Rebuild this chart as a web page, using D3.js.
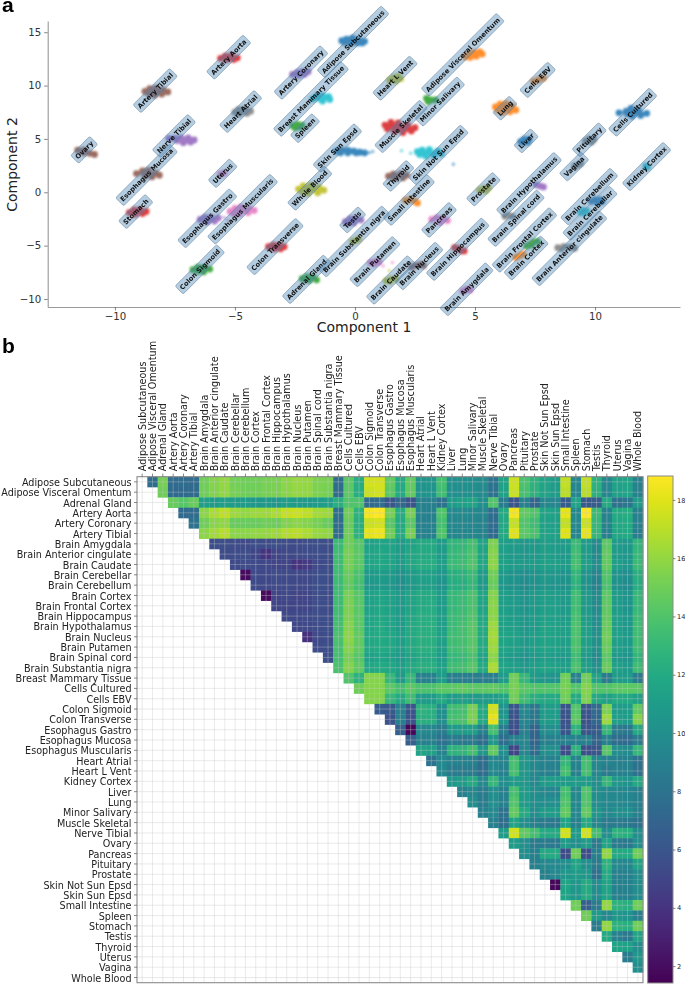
<!DOCTYPE html>
<html>
<head>
<meta charset="utf-8">
<script src="https://cdn.jsdelivr.net/npm/d3@7"></script>
<style>
  html, body { margin: 0; padding: 0; background: #fff; }
  svg { display: block; }
  text { font-family: "DejaVu Sans", sans-serif; }
</style>
</head>
<body>
<div id="chart"></div>
<script>
const tissues = [
  "Adipose Subcutaneous", "Adipose Visceral Omentum", "Adrenal Gland", "Artery Aorta", "Artery Coronary",
  "Artery Tibial", "Brain Amygdala", "Brain Anterior cingulate", "Brain Caudate", "Brain Cerebellar",
  "Brain Cerebellum", "Brain Cortex", "Brain Frontal Cortex", "Brain Hippocampus", "Brain Hypothalamus",
  "Brain Nucleus", "Brain Putamen", "Brain Spinal cord", "Brain Substantia nigra", "Breast Mammary Tissue",
  "Cells Cultured", "Cells EBV", "Colon Sigmoid", "Colon Transverse", "Esophagus Gastro",
  "Esophagus Mucosa", "Esophagus Muscularis", "Heart Atrial", "Heart L Vent", "Kidney Cortex",
  "Liver", "Lung", "Minor Salivary", "Muscle Skeletal", "Nerve Tibial",
  "Ovary", "Pancreas", "Pituitary", "Prostate", "Skin Not Sun Epsd",
  "Skin Sun Epsd", "Small Intestine", "Spleen", "Stomach", "Testis",
  "Thyroid", "Uterus", "Vagina", "Whole Blood"
];

// where each tissue name sits in the embedding, same order as tissues
const labelSpots = [
  [-0.08, 14.09], [4.49, 12.88], [-2.01, -8.16], [-5.26, 12.66], [-2.25, 11.22],
  [-8.32, 9.53], [4.65, -9.09], [8.93, -5.25], [1.49, -8.22], [9.79, -1.97],
  [9.76, -0.41], [7.13, -6.16], [7.06, -4.47], [4.28, -5.34], [7.25, 0.69],
  [2.67, -6.91], [0.83, -6.5], [6.71, -2.44], [-0.04, -4.61], [-1.83, 8.74],
  [11.57, 7.5], [7.61, 10.53], [-6.46, -7.22], [-3.33, -5.09], [-6.15, -2.44],
  [-8.68, 1.63], [-4.68, -1.59], [-4.76, 7.56], [1.67, 10.69], [12.15, 2.41],
  [7.13, 4.81], [6.25, 7.88], [3.54, 8.5], [1.92, 6.16], [-7.54, 5.28],
  [-11.28, 3.97], [3.5, -2.59], [9.76, 4.91], [5.35, 0.28], [3.47, 3.5],
  [-0.73, 4.15], [2.25, -0.72], [-2.08, 6], [-9.13, -1.81], [-0.1, -2.59],
  [1.81, 1.53], [-5.51, 1.78], [9.13, 2.41], [-1.88, 0.38]
];

const clusterPoints = [
  [[-0.55, 14.2], [-0.35, 14.35], [-0.1, 14.45], [0.15, 14.3], [0.4, 14.15], [0.1, 14], [-0.2, 13.95], [-0.1, 14.2], [-0.45, 14.05], [0.3, 14]],
  [[4.6, 12.7], [4.75, 12.95], [4.95, 13.1], [5.2, 13.15], [5.3, 12.95], [5.05, 12.75], [4.8, 12.65], [4.95, 12.9]],
  [[-2.2, -8.1], [-2, -7.9], [-1.75, -7.95], [-1.6, -8.2], [-1.9, -8.25], [-2.05, -8.05]],
  [[-5.6, 12.55], [-5.4, 12.75], [-5.15, 12.8], [-4.9, 12.6], [-5.05, 12.45], [-5.35, 12.45], [-5.25, 12.62]],
  [[-2.6, 11.05], [-2.4, 11.2], [-2.2, 11.3], [-1.95, 11.3], [-2.1, 11.05], [-2.35, 10.95]],
  [[-8.75, 9.45], [-8.55, 9.7], [-8.3, 9.75], [-8, 9.6], [-7.8, 9.4], [-8.05, 9.2], [-8.35, 9.1], [-8.6, 9.25], [-8.3, 9.45]],
  [[4.5, -9.25], [4.65, -9.1], [4.8, -9.15]],
  [[8.45, -5.2], [8.7, -5.1], [8.95, -5.15], [9.15, -5.25], [8.6, -5.3]],
  [[1.3, -8.3], [1.5, -8.15], [1.7, -8.1], [1.45, -8.35]],
  [[9.4, -1.9], [9.5, -1.7], [9.65, -1.75], [9.55, -1.95]],
  [[9.85, -0.85], [10, -0.7], [10.2, -0.7], [10.3, -0.85], [10.1, -0.95]],
  [[6.7, -6.1], [6.85, -5.95], [7, -5.8]],
  [[7.15, -5.05], [7.3, -4.85], [7.45, -4.65], [7.6, -4.6], [7.35, -4.95]],
  [[4.15, -5.2], [4.3, -5.25], [4.45, -5.5], [4.55, -5.5]],
  [[7.55, 0.7], [7.7, 0.6], [7.85, 0.5]],
  [[2.35, -7], [2.55, -6.85], [2.75, -6.75], [2.85, -6.85]],
  [[0.65, -6.6], [0.85, -6.5], [1, -6.55], [0.8, -6.7]],
  [[6.25, -2.25], [6.4, -2.15], [6.55, -2.25]],
  [[-0.1, -4.6], [0.05, -4.5], [0.15, -4.4]],
  [[-1.75, 8.75], [-1.6, 9], [-1.35, 9.05], [-1.1, 8.95], [-1.05, 8.7], [-1.35, 8.55], [-1.5, 8.8]],
  [[11, 7.45], [11.3, 7.6], [11.5, 7.85], [11.8, 7.7], [12.15, 7.4], [11.9, 7.2], [11.55, 7.15], [11.35, 7.35], [11.6, 7.5], [11.85, 7.45]],
  [[7.45, 10.4], [7.65, 10.55], [7.85, 10.7]],
  [[-6.75, -7.25], [-6.55, -7.05], [-6.3, -7.05], [-6.05, -7.2], [-6.3, -7.45], [-6.55, -7.4]],
  [[-3.6, -5.1], [-3.4, -4.95], [-3.15, -4.95], [-2.95, -5.1], [-3.1, -5.3], [-3.35, -5.3]],
  [[-6.45, -2.55], [-6.25, -2.35], [-6, -2.35], [-5.7, -2.4], [-5.85, -2.7], [-6.15, -2.75]],
  [[-9.1, 1.75], [-8.85, 2], [-8.6, 2.05], [-8.3, 1.8], [-8.15, 1.6], [-8.45, 1.45], [-8.75, 1.5], [-8.6, 1.75]],
  [[-5.2, -1.8], [-5, -1.5], [-4.75, -1.4], [-4.4, -1.55], [-4.2, -1.7], [-4.45, -1.9], [-4.8, -2], [-5.05, -2], [-4.7, -1.7]],
  [[-5, 7.5], [-4.85, 7.75], [-4.6, 7.8], [-4.35, 7.6], [-4.5, 7.4], [-4.8, 7.35]],
  [[1.45, 10.5], [1.6, 10.75], [1.8, 10.85], [1.9, 10.65], [1.7, 10.45]],
  [[12.12, 2.45], [12.18, 2.35]],
  [[6.9, 4.75], [7.05, 4.95], [7.25, 4.95], [7.2, 4.7], [7, 4.65]],
  [[5.85, 8], [6.05, 8.25], [6.3, 8.3], [6.55, 8.05], [6.7, 7.7], [6.45, 7.55], [6.15, 7.5], [5.95, 7.7], [6.3, 7.9]],
  [[2.98, 8.8], [3.15, 8.65], [3.35, 8.65], [3.05, 8.5]],
  [[1.25, 6.3], [1.5, 6.55], [1.8, 6.5], [2.2, 6.3], [2.5, 6.05], [2.35, 5.75], [2, 5.6], [1.65, 5.7], [1.35, 5.95], [1.9, 6.1]],
  [[-7.75, 5.05], [-7.5, 5.05], [-7.25, 5.1], [-6.95, 5.1], [-6.7, 4.9], [-6.85, 4.7], [-7.15, 4.65], [-7.4, 4.85], [-7.05, 4.9]],
  [[-11.55, 3.95], [-11.3, 3.95], [-11.05, 3.65], [-10.85, 3.55], [-11.3, 3.7]],
  [[3.2, -2.55], [3.4, -2.4], [3.65, -2.45], [3.85, -2.65], [3.55, -2.8]],
  [[9.6, 4.8], [9.75, 5], [9.95, 4.95], [9.85, 4.7]],
  [[5.2, 0.2], [5.35, 0.35], [5.55, 0.4], [5.45, 0.15]],
  [[2.6, 3.8], [2.8, 3.95], [3.1, 4], [3.45, 3.85], [3.6, 3.6], [3.3, 3.45], [2.95, 3.4], [2.7, 3.55], [3.1, 3.7]],
  [[-0.75, 3.85], [-0.55, 3.95], [-0.3, 3.95], [-0.05, 3.85], [0.2, 3.75], [0.4, 3.7], [-0.3, 3.7], [-0.6, 3.7], [0.05, 3.7]],
  [[2.1, -0.75], [2.3, -0.7], [2.5, -0.85], [2.6, -1]],
  [[-2.6, 6.25], [-2.4, 6.35], [-2.2, 6.3], [-2.3, 6.1], [-2.5, 6.05]],
  [[-9.4, -1.9], [-9.2, -1.65], [-8.95, -1.65], [-8.7, -1.8], [-8.85, -2], [-9.15, -2.05]],
  [[-0.4, -2.75], [-0.2, -2.5], [0.05, -2.45], [0.25, -2.6], [-0.05, -2.85], [-0.3, -2.9]],
  [[1.4, 1.5], [1.6, 1.7], [1.9, 1.75], [2.15, 1.6], [2, 1.35], [1.65, 1.3]],
  [[-5.6, 1.7], [-5.45, 1.8]],
  [[9.15, 2.45], [9.3, 2.55], [9.4, 2.7]],
  [[-2.35, 0.3], [-2.15, 0.6], [-1.85, 0.65], [-1.5, 0.45], [-1.3, 0.2], [-1.55, -0.05], [-1.95, -0.1], [-2.2, 0.05], [-1.85, 0.3]]
];

// lone samples away from the blobs: tissue, x, y
const strayPoints = [
  ["Esophagus Gastro", -5.45, -2.35], ["Esophagus Gastro", -5.3, -2.6],
  ["Brain Caudate", 1.43, -7.34],
  ["Brain Putamen", 1.18, -6.91], ["Brain Putamen", 1.56, -6.59],
  ["Skin Not Sun Epsd", 1.94, 3.9], ["Skin Not Sun Epsd", 2.32, 3.66],
  ["Skin Sun Epsd", 0.6, 3.72], ["Skin Sun Epsd", 0.74, 3.81], ["Skin Sun Epsd", 4.1, 2.63]
];

// upper triangle of the distance matrix, row i holds columns i+1 to the end
const heatRows = [
  [7.5, 15.2, 7.4, 7.5, 7.4, 15, 15.6, 16, 15.1, 15, 15, 15.2, 15.3, 15.8, 16.1, 16, 15.4, 15.3, 7.6, 14.4, 12.2, 17.6, 17.7, 14.6, 12, 14.6, 10.4, 10.5, 13.6, 10, 10.1, 10, 9.8, 8, 11.4, 17.5, 13.8, 12.6, 11.5, 11, 17.2, 9.4, 17.2, 12.6, 9.4, 11.4, 11.5, 9],
  [15, 7.3, 7.3, 7.4, 15, 15.5, 15.9, 15.2, 15, 15, 15.2, 15.3, 15.7, 16, 15.9, 15.4, 15.2, 7.5, 14.4, 12.2, 17.4, 17.6, 14.4, 12, 14.6, 10.4, 10.4, 13.5, 10, 10, 10, 9.7, 8, 11.4, 17.4, 13.7, 12.6, 11.5, 11, 17, 9.4, 17, 12.5, 9.4, 11.4, 11.5, 9],
  [14.8, 14.2, 14.8, 11.2, 11, 11.2, 11, 11, 10.6, 10.8, 10.6, 11.2, 11, 10.8, 11, 11.2, 12.4, 14, 14, 7.4, 7.5, 6.1, 7.2, 5.9, 9, 9, 8, 11, 11.4, 11.6, 10, 14, 8.6, 6, 9, 7, 9.5, 9.4, 6.4, 11.5, 6.2, 6.4, 12, 8, 8.2, 11],
  [7.4, 7.5, 15.8, 16.6, 17.1, 16.3, 16, 16.2, 16.3, 16.6, 17.3, 17.4, 17.1, 16.4, 16.2, 7.8, 15, 12.6, 18.6, 18.8, 15.2, 12.2, 15.2, 9.2, 9, 14, 9.6, 9.7, 9.6, 9.4, 7.6, 12, 18.5, 14.6, 14, 11.6, 11.4, 18.2, 9.6, 18.7, 13.2, 9.2, 12, 12.2, 9],
  [8, 15, 15.7, 15.9, 14.8, 14.8, 14.8, 15, 14.9, 15.5, 15.8, 15.6, 15.2, 14.8, 7.6, 14.8, 12.4, 17.4, 17.6, 14.2, 12, 14.4, 9, 9, 13.6, 9.5, 9.5, 9.4, 9.2, 7.5, 11.8, 17.3, 14, 13.4, 11.4, 11.2, 17.2, 9.6, 17.4, 13, 9.2, 11.8, 12, 9],
  [15.8, 16.4, 16.9, 15.8, 15.8, 15.9, 16, 16.3, 16.8, 17, 16.6, 16.1, 15.9, 7.6, 15, 12.6, 18.2, 18.4, 15, 12.1, 15.2, 9.1, 9, 14, 9.5, 9.5, 9.5, 9.2, 7.4, 11.9, 18, 14.4, 13.8, 11.5, 11.3, 18, 9.4, 18.2, 13, 9, 11.8, 12, 8.8],
  [5.6, 5.5, 5.4, 5.3, 5.5, 5.4, 5.6, 5.4, 5.3, 5.4, 5.6, 5.5, 13.2, 15, 14.2, 11.4, 11.6, 11.5, 11, 11.6, 12, 12, 11, 12.8, 13, 13.6, 11.6, 15.4, 11.2, 11, 10.6, 10.8, 11.2, 11, 11, 13.2, 11, 9.8, 14.4, 11, 10.6, 12.8],
  [5.4, 5.4, 5.5, 5, 4, 5, 5.2, 5.3, 5.4, 5.5, 5.5, 13.4, 15.2, 14.4, 11.5, 11.8, 11.6, 11, 11.8, 12, 12, 11, 13, 13.2, 13.8, 11.6, 15.6, 11.2, 10.8, 10.6, 10.8, 11.2, 11, 10.8, 13.4, 11, 9.8, 14.6, 11, 10.6, 13],
  [5.3, 5.4, 5.3, 5.2, 5, 5, 4, 4.4, 5.3, 5.4, 13.5, 15.2, 14.4, 11.6, 11.8, 11.6, 11, 11.8, 12.2, 12.2, 11.2, 13.2, 13.4, 14, 11.8, 15.8, 11.4, 11, 10.8, 11, 11.4, 11.2, 11, 13.6, 11.2, 10, 14.6, 11.2, 10.6, 13.2],
  [1.9, 5.3, 5.2, 5.4, 5.3, 5.2, 5.2, 5.6, 5.6, 13.4, 14.8, 13.8, 10.8, 11, 10.8, 10.2, 11, 11.4, 11.4, 10.6, 12.4, 12.6, 13.2, 11, 15, 10.8, 10.4, 10, 10.4, 10.8, 10.6, 10.4, 12.8, 10.4, 9.4, 14, 10.4, 10, 12.4],
  [5.3, 5.2, 5.3, 5.3, 5.2, 5.2, 5.6, 5.5, 13.3, 14.6, 13.6, 10.6, 10.8, 10.6, 10.1, 10.8, 11.2, 11.2, 10.4, 12.2, 12.4, 13, 10.8, 14.8, 10.6, 10.2, 9.8, 10.2, 10.6, 10.4, 10.2, 12.6, 10.2, 9.2, 13.8, 10.2, 9.8, 12.2],
  [1.9, 5, 5.2, 4.9, 5, 5.5, 5.4, 13.4, 15.2, 14.2, 11.4, 11.6, 11.4, 10.8, 11.6, 12, 12, 11, 13, 13.2, 13.8, 11.6, 15.6, 11.2, 10.8, 10.4, 10.8, 11.2, 11, 10.8, 13.4, 10.8, 9.8, 14.4, 11, 10.4, 13],
  [5, 5, 5, 5, 5.5, 5.4, 13.4, 15.3, 14.3, 11.4, 11.7, 11.4, 10.8, 11.6, 12, 12.1, 11, 13, 13.3, 13.8, 11.6, 15.7, 11.2, 10.9, 10.4, 10.8, 11.2, 11.1, 10.8, 13.4, 10.8, 9.8, 14.5, 11, 10.4, 13],
  [5.2, 5.2, 5.3, 5.5, 5.5, 13.5, 15.4, 14.4, 11.6, 11.8, 11.5, 11, 11.8, 12.2, 12.2, 11.2, 13.2, 13.4, 14, 11.8, 15.8, 11.4, 11, 10.6, 11, 11.4, 11.2, 11, 13.6, 11, 10, 14.6, 11.2, 10.6, 13.2],
  [5.1, 5.2, 5.4, 5.5, 13.6, 15.6, 14.4, 11.7, 12, 11.6, 11, 12, 12.2, 12.4, 11.2, 13.2, 13.6, 14.2, 12, 16.2, 11.4, 11.2, 10.6, 11, 11.6, 11.4, 11.2, 13.8, 11.2, 10, 14.8, 11.2, 10.6, 13.4],
  [3.8, 5.3, 5.4, 13.8, 15.8, 14.6, 11.8, 12, 11.8, 11.2, 12, 12.4, 12.4, 11.4, 13.4, 13.6, 14.2, 12, 16.4, 11.6, 11.4, 10.8, 11.2, 11.6, 11.4, 11.2, 13.8, 11.2, 10.2, 15, 11.4, 10.8, 13.4],
  [5.4, 5.5, 13.7, 15.6, 14.6, 11.8, 12, 11.8, 11.2, 12, 12.4, 12.4, 11.2, 13.4, 13.6, 14.2, 12, 16.2, 11.6, 11.2, 10.8, 11.2, 11.6, 11.4, 11.2, 13.8, 11.2, 10.2, 14.8, 11.2, 10.8, 13.4],
  [5.6, 13.6, 15.2, 14.2, 11.4, 11.6, 11.4, 10.8, 11.6, 12, 12, 11, 13, 13.2, 13.8, 11.6, 15.8, 11.2, 10.8, 10.4, 10.8, 11.2, 11, 10.8, 13.4, 10.8, 9.8, 14.4, 10.8, 10.4, 12.8],
  [13.8, 15.6, 14.6, 11.8, 12, 11.8, 11.2, 12, 12.4, 12.4, 11.4, 13.4, 13.6, 14.2, 12, 16.6, 11.6, 11.2, 10.8, 11.2, 11.6, 11.4, 11.2, 13.8, 11.2, 10.2, 14.8, 11.4, 10.8, 13.4],
  [14, 12.6, 15.6, 15.6, 13, 11, 13, 9, 9, 11, 8.8, 8.8, 8.8, 8.8, 8.8, 11, 15, 13, 11, 10.6, 10.4, 15, 9, 15, 11.6, 8.6, 11, 11, 8.6],
  [15, 15.6, 15.6, 14.4, 13.6, 14.4, 13.8, 13.8, 14.4, 14.4, 14.6, 14.4, 14.4, 14.6, 14, 15.2, 14.3, 14, 14, 14, 15.2, 14, 15.6, 14, 14, 14.4, 14.4, 14.4],
  [15.6, 15.6, 13, 12, 13.4, 11, 11, 12, 11, 11.2, 11, 11, 11, 11.6, 15, 13.4, 12.4, 12, 12, 15, 12, 15.4, 12, 11.4, 12, 12, 11.4],
  [6.4, 6.2, 9, 6, 12.6, 12.4, 10, 13.4, 13.6, 15.2, 12, 17.6, 10.4, 6, 9.6, 8.4, 11, 11, 6, 14, 6, 7.4, 15.4, 11, 11, 14.6],
  [5.8, 9, 5.8, 12.4, 12.4, 10, 13.6, 13.8, 15.4, 12, 18.2, 10.6, 5.8, 9.4, 8.4, 11, 11, 5.8, 14.4, 5.8, 7.2, 16.2, 11.2, 11, 15.6],
  [6.6, 1.7, 9.6, 9.4, 8.6, 10.8, 11, 11.2, 9, 13.6, 8.6, 5.6, 9, 7, 10, 10, 6, 12.6, 6, 6.4, 13, 8.6, 8.4, 12],
  [6.6, 9, 9, 8, 8.6, 8.4, 8.6, 7.6, 10.6, 7.6, 9, 9.4, 7, 9, 9, 9, 9, 9, 7, 9, 7.6, 7.4, 8.6],
  [11.6, 11.4, 9.2, 12.6, 12.8, 13.6, 10.6, 14.6, 10, 5, 9.4, 7.6, 10, 10, 5.4, 12.6, 5.6, 6, 14.2, 10, 9.8, 13],
  [8, 9.6, 9, 9, 9, 7.6, 9.6, 9.2, 13.6, 10.6, 9.6, 9.2, 9, 13, 9.2, 13.6, 9.6, 9.2, 9, 9, 8],
  [9.6, 8.6, 8.6, 8.6, 7.6, 9.6, 9, 13.6, 10.6, 9.6, 9, 9, 13.6, 9, 13.6, 9.6, 8.6, 9, 9, 8],
  [10.6, 11, 12, 9.6, 13, 10, 11, 10.6, 9.6, 11, 11, 11, 11, 11, 10, 13, 10.6, 10.4, 12],
  [9, 9.6, 8.6, 10, 9, 13.6, 11, 10, 9.6, 9.4, 13.6, 9.6, 14, 10, 9.6, 9.6, 9.4, 9],
  [10, 8.6, 10, 9, 14, 11, 10, 10, 10, 14, 9.6, 14, 10, 9.6, 9.6, 9.4, 9],
  [9, 9.6, 8, 14.6, 12, 10, 11, 11, 14.6, 9.6, 14.6, 10.6, 9.6, 10, 10, 9],
  [9, 7.6, 11.6, 10, 9, 8.6, 8.4, 11.6, 9, 12, 9.6, 8.6, 8.6, 8.4, 8],
  [11, 17.6, 14.6, 13.6, 12, 12, 17.6, 11, 17.6, 13.6, 10, 12.6, 12.4, 10],
  [11, 10, 8.6, 8.6, 8.4, 11, 10, 11, 8.6, 11.6, 8.6, 8.4, 10],
  [10, 9, 12, 12, 5.4, 15, 5.6, 9, 16, 12, 12, 15],
  [9, 9.6, 9.6, 10, 11.6, 10, 8.6, 12.6, 9.6, 9.4, 11.6],
  [9, 9.6, 10.6, 11, 10.6, 8, 12, 9, 9, 10],
  [1.7, 11.6, 10.6, 12, 10, 11.6, 9, 9, 10],
  [11.6, 10.6, 12, 10, 11.6, 9, 9, 10],
  [15, 6.6, 8.6, 16, 12.6, 12.4, 15],
  [15, 11, 9.6, 10.6, 10.4, 9],
  [8.6, 16, 12.6, 12.4, 15],
  [12, 9, 8.4, 11.6],
  [11.6, 11.4, 10],
  [8.6, 10.6],
  [10]
];

const scatterXTicks = [-10, -5, 0, 5, 10];
const scatterYTicks = [-10, -5, 0, 5, 10, 15];
const colorbarTicks = [2, 4, 6, 8, 10, 12, 14, 16, 18];

const w = 685;
const h = 984;

const svg = d3.select("#chart").append("svg").attr("width", w).attr("height", h);

// panel a
const xScale = d3.scaleLinear().domain([-12.8, 13.54]).range([47.7, 680]);
const yScale = d3.scaleLinear().domain([-10.75, 16.05]).range([307, 21]);
const tissueColor = d3.scaleOrdinal(d3.schemeCategory10).domain(tissues);

svg.append("defs").append("filter").attr("id", "soft")
  .append("feGaussianBlur").attr("stdDeviation", 1);

const blobs = svg.append("g").attr("filter", "url(#soft)");

tissues.forEach((tissue, i) => {
  const g = blobs.append("g").attr("opacity", 0.88);

  // fill the gaps between the read points so a blob stays solid
  const hull = d3.polygonHull(clusterPoints[i].map(d => [xScale(d[0]), yScale(d[1])]));
  if (hull) {
    g.append("path")
      .attr("d", "M" + hull.join("L") + "Z")
      .attr("fill", tissueColor(tissue));
  }

  g.selectAll("circle")
    .data(clusterPoints[i])
    .enter()
    .append("circle")
    .attr("cx", d => xScale(d[0]))
    .attr("cy", d => yScale(d[1]))
    .attr("r", 3.4)
    .attr("fill", tissueColor(tissue));
});

blobs.append("g").selectAll("circle")
  .data(strayPoints)
  .enter()
  .append("circle")
  .attr("cx", d => xScale(d[1]))
  .attr("cy", d => yScale(d[2]))
  .attr("r", 1.6)
  .attr("fill", d => tissueColor(d[0]))
  .attr("fill-opacity", 0.6);

const xAxis = svg.append("g")
  .attr("transform", "translate(0,307)")
  .call(d3.axisBottom(xScale).tickValues(scatterXTicks).tickSize(3.5).tickSizeOuter(0).tickPadding(2));
const yAxis = svg.append("g")
  .attr("transform", "translate(47.7,0)")
  .call(d3.axisLeft(yScale).tickValues(scatterYTicks).tickSize(3.5).tickSizeOuter(0).tickPadding(3));

[xAxis, yAxis].forEach(a => {
  a.selectAll("text").attr("font-size", 10.2).attr("fill", "#333");
  a.selectAll("line").attr("stroke", "#666").attr("stroke-width", 0.8);
  a.select(".domain").attr("stroke", "#999").attr("stroke-width", 1.1);
});

svg.append("text")
  .text("Component 1")
  .attr("x", 364)
  .attr("y", 332)
  .attr("text-anchor", "middle")
  .attr("font-size", 14)
  .attr("fill", "#222");

svg.append("text")
  .text("Component 2")
  .attr("transform", "translate(17,164.5) rotate(-90)")
  .attr("text-anchor", "middle")
  .attr("font-size", 14)
  .attr("fill", "#222");

const labels = svg.append("g").selectAll("g")
  .data(tissues)
  .enter()
  .append("g")
  .attr("transform", (d, i) => "translate(" + xScale(labelSpots[i][0]) + "," + yScale(labelSpots[i][1]) + ") rotate(-45)");

const labelBoxes = labels.append("rect")
  .attr("fill", "steelblue")
  .attr("fill-opacity", 0.4)
  .attr("stroke", "#5f7f99")
  .attr("stroke-opacity", 0.55)
  .attr("stroke-width", 0.9)
  .attr("rx", 1.8);

const labelTexts = labels.append("text")
  .text(d => d)
  .attr("text-anchor", "middle")
  .attr("dy", "0.36em")
  .attr("font-size", 6.7)
  .attr("font-weight", "bold")
  .attr("fill", "#111");

labelBoxes.each(function(d, i) {
  const len = labelTexts.nodes()[i].getComputedTextLength();
  d3.select(this)
    .attr("x", -len / 2 - 2.4)
    .attr("y", -5.7)
    .attr("width", len + 4.8)
    .attr("height", 11.4);
});

// panel letters
svg.append("text").text("a").attr("x", 2).attr("y", 11.5)
  .style("font-family", "'Liberation Sans', sans-serif")
  .attr("font-size", 21).attr("font-weight", "bold");
svg.append("text").text("b").attr("x", 2).attr("y", 352.5)
  .style("font-family", "'Liberation Sans', sans-serif")
  .attr("font-size", 21).attr("font-weight", "bold");

// panel b
const heatLeft = 137;
const heatRight = 643;
const heatTop = 476.7;
const heatBottom = 982.7;

const colX = d3.scaleBand().domain(tissues).range([heatLeft, heatRight]);
const rowY = d3.scaleBand().domain(tissues).range([heatTop, heatBottom]);
const heatColor = d3.scaleSequential(d3.interpolateViridis).domain([1.42, 18.82]);

const cells = [];
heatRows.forEach((row, i) => {
  row.forEach((v, k) => {
    cells.push({ row: tissues[i], col: tissues[i + 1 + k], value: v });
  });
});

svg.append("g").selectAll("rect")
  .data(cells)
  .enter()
  .append("rect")
  .attr("x", d => colX(d.col))
  .attr("y", d => rowY(d.row))
  .attr("width", colX.bandwidth() + 0.3)
  .attr("height", rowY.bandwidth() + 0.3)
  .attr("fill", d => heatColor(d.value));

const grid = svg.append("g")
  .attr("stroke", "#c8c8c8")
  .attr("stroke-opacity", 0.42)
  .attr("stroke-width", 0.9);

grid.selectAll(".v").data(tissues).enter().append("line").attr("class", "v")
  .attr("x1", d => colX(d) + colX.bandwidth() / 2)
  .attr("x2", d => colX(d) + colX.bandwidth() / 2)
  .attr("y1", heatTop)
  .attr("y2", heatBottom);

grid.selectAll(".h").data(tissues).enter().append("line").attr("class", "h")
  .attr("y1", d => rowY(d) + rowY.bandwidth() / 2)
  .attr("y2", d => rowY(d) + rowY.bandwidth() / 2)
  .attr("x1", heatLeft)
  .attr("x2", heatRight);

svg.append("rect")
  .attr("x", heatLeft)
  .attr("y", heatTop)
  .attr("width", heatRight - heatLeft)
  .attr("height", heatBottom - heatTop)
  .attr("fill", "none")
  .attr("stroke", "#8a8a8a")
  .attr("stroke-width", 1.1);

const rowAxis = svg.append("g")
  .attr("transform", "translate(" + heatLeft + ",0)")
  .call(d3.axisLeft(rowY).tickSize(3).tickSizeOuter(0).tickPadding(2.5));
const colAxis = svg.append("g")
  .attr("transform", "translate(0," + heatTop + ")")
  .call(d3.axisTop(colX).tickSize(3).tickSizeOuter(0).tickPadding(2.5));

[rowAxis, colAxis].forEach(a => {
  a.select(".domain").remove();
  a.selectAll("line").attr("stroke", "#555").attr("stroke-width", 0.7);
  a.selectAll("text").attr("font-size", 9.65).attr("fill", "#222");
});

rowAxis.selectAll("text").attr("dy", "0.42em");

colAxis.selectAll("text")
  .attr("transform", "rotate(-90)")
  .attr("x", 5.5)
  .attr("y", 0)
  .attr("dy", "0.36em")
  .attr("text-anchor", "start");

// colour bar
const barLeft = 647.7;
const barRight = 673;
const barTop = 476;
const barBottom = 983;
const barScale = d3.scaleLinear().domain(heatColor.domain()).range([barBottom, barTop]);

const barDefs = svg.select("defs").append("linearGradient")
  .attr("id", "viridisBar")
  .attr("x1", 0).attr("y1", 1).attr("x2", 0).attr("y2", 0);

barDefs.selectAll("stop")
  .data(d3.range(0, 1.001, 0.05))
  .enter()
  .append("stop")
  .attr("offset", d => d)
  .attr("stop-color", d => d3.interpolateViridis(d));

svg.append("rect")
  .attr("x", barLeft)
  .attr("y", barTop)
  .attr("width", barRight - barLeft)
  .attr("height", barBottom - barTop)
  .attr("fill", "url(#viridisBar)")
  .attr("stroke", "#8a8a8a")
  .attr("stroke-width", 1);

const barAxis = svg.append("g")
  .attr("transform", "translate(" + barRight + ",0)")
  .call(d3.axisRight(barScale).tickValues(colorbarTicks).tickSize(2.5).tickSizeOuter(0).tickPadding(1.5));

barAxis.select(".domain").remove();
barAxis.selectAll("line").attr("stroke", "#555").attr("stroke-width", 0.7);
barAxis.selectAll("text").attr("font-size", 6.6).attr("fill", "#222");
</script>
</body>
</html>
